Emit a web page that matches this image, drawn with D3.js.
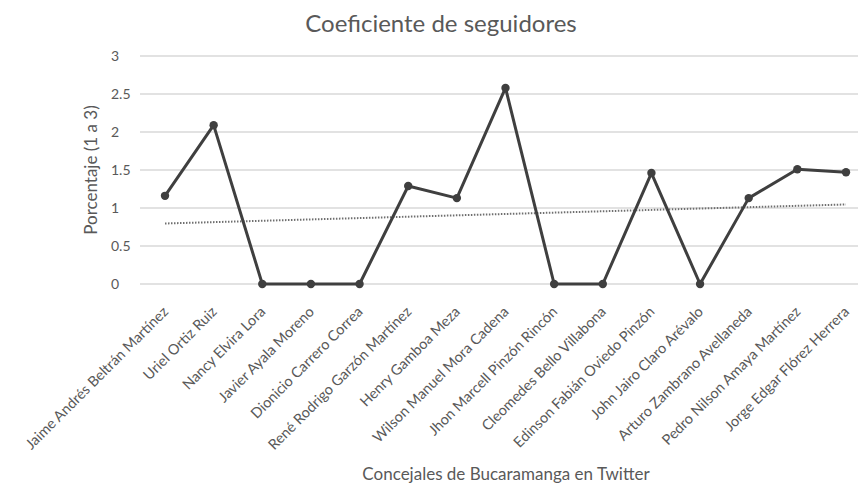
<!DOCTYPE html>
<html>
<head>
<meta charset="utf-8">
<script src="https://cdn.jsdelivr.net/npm/d3@7/dist/d3.min.js"></script>
<style>
  html, body { margin: 0; padding: 0; background: #ffffff; }
  svg { display: block; }
  text { font-family: Lato, "Open Sans", sans-serif; fill: #595959; }
</style>
</head>
<body>
<svg id="chart" width="868" height="485"></svg>
<script>
// Concejales and their follower coefficient
const concejales = [
  "Jaime Andrés Beltrán Martínez",
  "Uriel Ortiz Ruiz",
  "Nancy Elvira Lora",
  "Javier Ayala Moreno",
  "Dionicio Carrero Correa",
  "René Rodrigo Garzón Martínez",
  "Henry Gamboa Meza",
  "Wilson Manuel Mora Cadena",
  "Jhon Marcell Pinzón Rincón",
  "Cleomedes Bello Villabona",
  "Edinson Fabián Oviedo Pinzón",
  "John Jairo Claro Arévalo",
  "Arturo Zambrano Avellaneda",
  "Pedro Nilson Amaya Martínez",
  "Jorge Edgar Flórez Herrera"
];
const coeficiente = [1.16, 2.09, 0, 0, 0, 1.29, 1.13, 2.58, 0, 0, 1.46, 0, 1.13, 1.51, 1.47];
const yTicks = [0, 0.5, 1, 1.5, 2, 2.5, 3];

const svg = d3.select("#chart");

const plot = { left: 140, right: 858, top: 56, bottom: 284 };

const x = d3.scalePoint()
  .domain(concejales)
  .range([165, 846]);

const y = d3.scaleLinear()
  .domain([0, 3])
  .range([plot.bottom, plot.top]);

// Horizontal gridlines
svg.append("g")
  .selectAll("line")
  .data(yTicks)
  .join("line")
  .attr("x1", plot.left)
  .attr("x2", plot.right)
  .attr("y1", d => y(d))
  .attr("y2", d => y(d))
  .attr("stroke", "#d9d9d9")
  .attr("stroke-width", 1.3);

// Y axis labels
const yAxis = svg.append("g")
  .attr("transform", `translate(111,0)`)
  .call(d3.axisLeft(y).tickValues(yTicks).tickSize(0).tickFormat(d3.format("")));
yAxis.select(".domain").remove();
yAxis.selectAll("text")
  .attr("text-anchor", "start")
  .attr("x", 0)
  .attr("dy", "0.35em")
  .style("font-size", "14px")
  .style("fill", "#595959");

// X axis labels, rotated
const xAxis = svg.append("g")
  .attr("transform", `translate(0,${plot.bottom})`)
  .call(d3.axisBottom(x).tickSize(0));
xAxis.select(".domain").remove();
xAxis.selectAll("text")
  .attr("text-anchor", "end")
  .attr("transform", "translate(0,25) rotate(-45)")
  .attr("x", 0)
  .attr("y", 0)
  .attr("dy", "0.35em")
  .style("font-size", "14.5px")
  .style("fill", "#595959");

// Linear trend line
const idx = coeficiente.map((_, i) => i + 1);
const mx = d3.mean(idx), my = d3.mean(coeficiente);
const slope = d3.sum(idx, (v, i) => (v - mx) * (coeficiente[i] - my)) / d3.sum(idx, v => (v - mx) ** 2);
const intercept = my - slope * mx;
const trend = concejales.map((c, i) => ({ c, v: intercept + slope * (i + 1) }));

svg.append("path")
  .datum([trend[0], trend[trend.length - 1]])
  .attr("fill", "none")
  .attr("stroke", "#6f6f6f")
  .attr("stroke-width", 2)
  .attr("stroke-dasharray", "1.5 1.5")
  .attr("d", d3.line().x(d => x(d.c)).y(d => y(d.v)));

// Series line
const series = concejales.map((c, i) => ({ c, v: coeficiente[i] }));
svg.append("path")
  .datum(series)
  .attr("fill", "none")
  .attr("stroke", "#3f3f3f")
  .attr("stroke-width", 3)
  .attr("stroke-linejoin", "round")
  .attr("d", d3.line().x(d => x(d.c)).y(d => y(d.v)));

svg.append("g")
  .selectAll("circle")
  .data(series)
  .join("circle")
  .attr("cx", d => x(d.c))
  .attr("cy", d => y(d.v))
  .attr("r", 4.2)
  .attr("fill", "#3f3f3f");

// Titles
svg.append("text")
  .attr("x", 441)
  .attr("y", 32)
  .attr("text-anchor", "middle")
  .style("font-size", "24px")
  .text("Coeficiente de seguidores");

svg.append("text")
  .attr("transform", `translate(97,${(plot.top + plot.bottom) / 2}) rotate(-90)`)
  .attr("text-anchor", "middle")
  .style("font-size", "17px")
  .text("Porcentaje (1 a 3)");

svg.append("text")
  .attr("x", (plot.left + plot.right) / 2 + 7)
  .attr("y", 480)
  .attr("text-anchor", "middle")
  .style("font-size", "17px")
  .text("Concejales de Bucaramanga en Twitter");
</script>
</body>
</html>
